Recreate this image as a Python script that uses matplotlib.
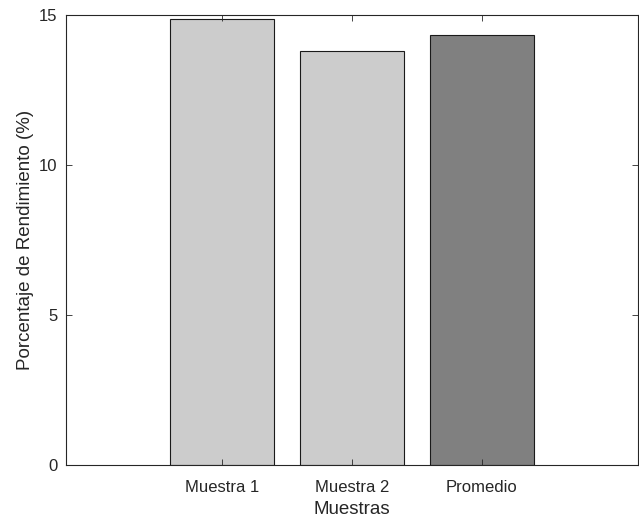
import matplotlib.pyplot as plt

# datos
muestras = ['Muestra 1', 'Muestra 2', 'Promedio']
rendimiento = [14.87, 13.80, 14.33]
colores = ['#cccccc', '#cccccc', '#808080']

plt.rcParams['font.family'] = ['Liberation Sans', 'DejaVu Sans']

fig = plt.figure(figsize=(6.39, 5.19), dpi=100)
ax = fig.add_axes([0.1033, 0.104, 0.895, 0.867])

x = range(1, len(muestras) + 1)
ax.bar(x, rendimiento, width=0.8, color=colores, edgecolor='#1a1a1a', linewidth=0.8)

ax.set_xlim(-0.2, 4.2)
ax.set_ylim(0, 15)
ax.set_xticks(list(x))
ax.set_xticklabels(muestras)
ax.set_yticks([0, 5, 10, 15])

ax.set_xlabel('Muestras', fontsize=13.5, color='#262626', labelpad=4)
ax.set_ylabel('Porcentaje de Rendimiento (%)', fontsize=13.5, color='#262626', labelpad=4)

for s in ax.spines.values():
    s.set_color('#262626')
    s.set_linewidth(0.8)
ax.tick_params(direction='in', top=True, right=True, length=4, width=0.6,
               color='#262626', labelsize=12, labelcolor='#262626')
ax.tick_params(axis='x', pad=11)
ax.tick_params(axis='y', pad=6)

fig.savefig('out.png', dpi=100)
